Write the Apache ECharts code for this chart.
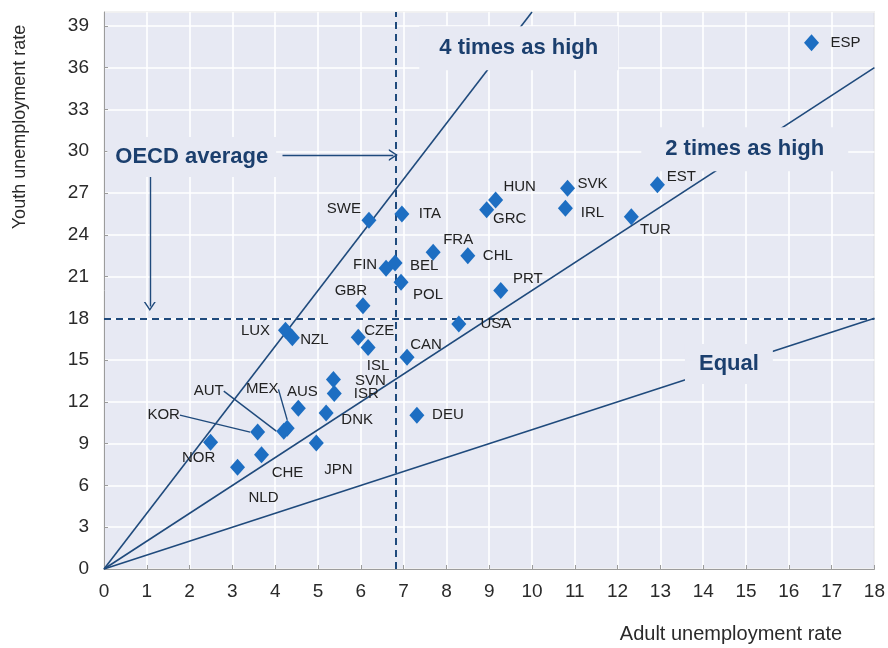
<!DOCTYPE html>
<html>
<head>
<meta charset="utf-8">
<script src="https://cdn.jsdelivr.net/npm/echarts@6/dist/echarts.min.js"></script>
<style>
  html, body { margin: 0; padding: 0; background: #ffffff; }
  #chart { width: 888px; height: 648px; }
</style>
</head>
<body>
<div id="chart"></div>
<script>
// ---------------- data ----------------
const countries = ['ESP','EST','TUR','SVK','IRL','HUN','GRC','CHL','FRA','PRT','USA','ITA','SWE','FIN','BEL','POL','GBR','CZE','ISL','CAN','SVN','ISR','DNK','AUS','MEX','AUT','KOR','NOR','CHE','NLD','JPN','LUX','NZL','DEU'];
const adultRate = [16.53,12.93,12.32,10.83,10.78,9.15,8.94,8.50,7.69,9.27,8.29,6.96,6.19,6.59,6.80,6.94,6.05,5.94,6.17,7.08,5.36,5.38,5.19,4.54,4.28,4.20,3.59,2.49,3.68,3.12,4.96,4.24,4.40,7.31];
const youthRate = [37.8,27.6,25.3,27.35,25.9,26.5,25.8,22.5,22.75,20.0,17.6,25.5,25.05,21.6,21.97,20.6,18.9,16.65,15.9,15.2,13.6,12.6,11.2,11.55,10.1,9.9,9.83,9.1,8.2,7.3,9.05,17.15,16.6,11.05];

const oecdAdult = 6.82;
const oecdYouth = 18;

const equalLine = [[0, 0], [18, 18]];
const twiceLine = [[0, 0], [18, 36]];
const fourLine  = [[0, 0], [10, 40]];

const xTicks = [0,1,2,3,4,5,6,7,8,9,10,11,12,13,14,15,16,17,18];
const yTicks = [0,3,6,9,12,15,18,21,24,27,30,33,36,39];

const annotations = [
  { text: '4 times as high', x: 9.69, y: 37.4 },
  { text: '2 times as high', x: 14.97, y: 30.15 },
  { text: 'Equal', x: 14.6, y: 14.72 },
  { text: 'OECD average', x: 2.05, y: 29.59 }
];
const arrowH = [[4.17, 29.73], [6.76, 29.73]];
const arrowV = [[1.07, 28.15], [1.07, 18.85]];

// ---------------- style / layout ----------------
const labelOffset = {
  ESP:[34,0], EST:[24,-8], TUR:[24,13], SVK:[25,-4], IRL:[27,5], HUN:[24,-13], GRC:[23,9],
  CHL:[30,0], FRA:[25,-12], PRT:[27,-12], USA:[37,0], ITA:[28,0], SWE:[-25,-11], FIN:[-21,-3],
  BEL:[29,3], POL:[27,13], GBR:[-12,-15], CZE:[21,-6], ISL:[10,18], CAN:[19,-12], SVN:[37,1],
  ISR:[32,0], DNK:[31,7], AUS:[4,-16], MEX:[-25,-39], AUT:[-75,-40], KOR:[-94,-17],
  NOR:[-12,16], CHE:[26,18], NLD:[26,31], JPN:[22,27], LUX:[-30,1], NZL:[22,2], DEU:[31,0]
};
const leader = { KOR: true, AUT: true, MEX: true };

const NAVY = '#1f4a7c';
const TEXT_NAVY = '#1b3f6e';
const PLOT_BG = '#e7e9f3';
const FONT = 'Liberation Sans, Arial, Helvetica, sans-serif';

const chart = echarts.init(document.getElementById('chart'), null, { renderer: 'canvas' });

const scatterData = countries.map((c, i) => ({
  name: c,
  value: [adultRate[i], youthRate[i]],
  labelLine: { show: !!leader[c] }
}));

const refLine = (data) => ({
  type: 'line', data: data, showSymbol: false, symbol: 'none', z: 2, silent: true,
  lineStyle: { color: NAVY, width: 1.6 }, animation: false
});

const chevron = 'path://M0,10 L5,0 L10,10 L8.6,10 L5,2.8 L1.4,10 Z';

const option = {
  animation: false,
  textStyle: { fontFamily: FONT },
  grid: {
    left: 104, right: 11, top: 12, bottom: 79,
    show: true, backgroundColor: PLOT_BG, borderColor: '#9c9c9c', borderWidth: 1
  },
  xAxis: {
    type: 'value', min: 0, max: 18, interval: 1,
    axisLine: { show: true, lineStyle: { color: '#9c9c9c' } },
    axisTick: { show: true, inside: true, length: 4, lineStyle: { color: '#9c9c9c' } },
    axisLabel: { color: '#2a2a2a', fontSize: 19, margin: 13, fontFamily: FONT,
      formatter: v => xTicks.indexOf(v) >= 0 ? String(v) : '' },
    splitLine: { show: true, lineStyle: { color: '#ffffff', width: 1.6 } }
  },
  yAxis: {
    type: 'value', min: 0, max: 40, interval: 3,
    axisLine: { show: true, lineStyle: { color: '#9c9c9c' } },
    axisTick: { show: true, inside: true, length: 4, lineStyle: { color: '#9c9c9c' } },
    axisLabel: { color: '#2a2a2a', fontSize: 19, margin: 15, fontFamily: FONT, showMaxLabel: false,
      formatter: v => yTicks.indexOf(v) >= 0 ? String(v) : '' },
    splitLine: { show: true, lineStyle: { color: '#ffffff', width: 1.6 } }
  },
  graphic: [
    { type: 'text', x: 20, y: 127, rotation: Math.PI / 2,
      style: { text: 'Youth unemployment rate', fill: '#2a2a2a', font: '18px ' + FONT,
        textAlign: 'center', textVerticalAlign: 'middle' } },
    { type: 'text', x: 731, y: 634,
      style: { text: 'Adult unemployment rate', fill: '#2a2a2a', font: '20px ' + FONT,
        textAlign: 'center', textVerticalAlign: 'middle' } }
  ],
  series: [
    refLine(equalLine),
    refLine(twiceLine),
    refLine(fourLine),
    {
      type: 'line', data: [], z: 3, silent: true,
      markLine: {
        silent: true, symbol: ['none', 'none'], animation: false,
        label: { show: false },
        lineStyle: { color: NAVY, width: 2, type: [7, 5] },
        data: [ { xAxis: oecdAdult }, { yAxis: oecdYouth } ]
      }
    },
    {
      type: 'line', data: [], z: 3, silent: true,
      markLine: {
        silent: true, symbol: ['none', chevron], symbolSize: [12, 9], animation: false,
        label: { show: false },
        lineStyle: { color: NAVY, width: 1.4, type: 'solid' },
        data: [
          [ { coord: arrowH[0] }, { coord: arrowH[1] } ],
          [ { coord: arrowV[0] }, { coord: arrowV[1] } ]
        ]
      }
    },
    {
      type: 'scatter', z: 6,
      symbol: 'diamond', symbolSize: [15, 17],
      itemStyle: { color: '#1d6ec2', opacity: 1 },
      data: scatterData,
      label: {
        show: true, position: 'inside', formatter: p => p.name,
        color: '#222', fontSize: 15, fontFamily: FONT,
        textBorderWidth: 0, textBorderColor: 'transparent'
      },
      labelLine: { show: false, lineStyle: { color: NAVY, width: 1.4 } },
      labelLayout: function (params) {
        const name = countries[params.dataIndex];
        const o = labelOffset[name] || [20, 0];
        return { dx: o[0], dy: o[1] };
      }
    },
    {
      type: 'scatter', data: [], z: 8, silent: true,
      markPoint: {
        silent: true, animation: false,
        symbol: 'rect', symbolSize: 0,
        label: {
          show: true, position: 'inside', color: TEXT_NAVY,
          fontSize: 22, fontWeight: 'bold', fontFamily: FONT,
          backgroundColor: PLOT_BG, textBorderWidth: 0
        },
        data: annotations.map((a, i) => ({
          coord: [a.x, a.y], value: a.text,
          label: {
            formatter: a.text,
            padding: i === 0 ? [11, 20] : (i === 1 ? [11, 24] : (i === 2 ? [9, 14] : [9, 8]))
          }
        }))
      }
    }
  ]
};

chart.setOption(option);
</script>
</body>
</html>
